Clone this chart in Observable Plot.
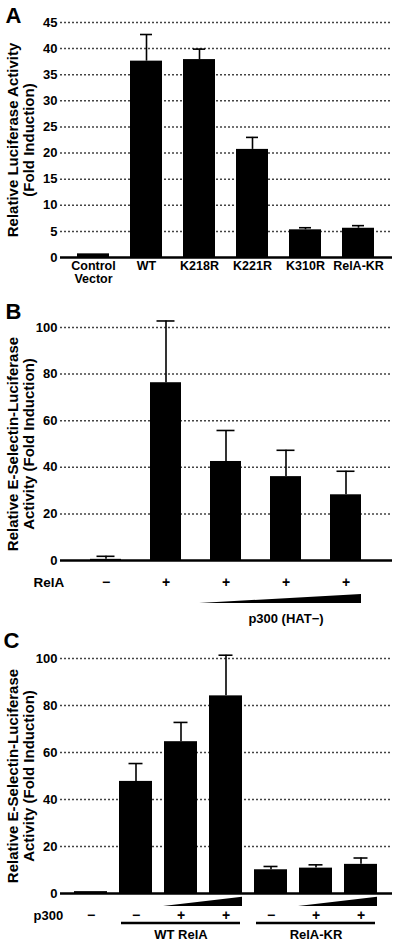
<!DOCTYPE html>
<html><head><meta charset="utf-8">
<script src="https://cdn.jsdelivr.net/npm/d3@7"></script>
<script src="https://cdn.jsdelivr.net/npm/@observablehq/plot@0.6"></script>
<style>
html,body{margin:0;padding:0;background:#fff;}
#root{width:400px;height:943px;overflow:hidden;background:#fff;}
#root svg{display:block;}
</style></head><body><div id="root"></div>
<script>
// ---------- Panel A ----------
const catsA = ["Control\nVector", "WT", "K218R", "K221R", "K310R", "RelA-KR"];
const valsA = [0.7, 37.6, 37.9, 20.7, 5.3, 5.6];
const errsA = [0, 5.1, 2.0, 2.3, 0.4, 0.5];
const ticksA = [0, 5, 10, 15, 20, 25, 30, 35, 40, 45];
const ylabelA = "Relative Luciferase Activity\n(Fold Induction)";

// ---------- Panel B ----------
const catsB = ["b1", "b2", "b3", "b4", "b5"];
const relaB = ["−", "+", "+", "+", "+"];
const valsB = [0.5, 76.3, 42.5, 36.0, 28.2];
const errsB = [1.3, 26.5, 13.3, 11.3, 10.1];
const ticksB = [0, 20, 40, 60, 80, 100];
const ylabelB = "Relative E-Selectin-Luciferase\nActivity (Fold Induction)";
const rowLabelB = "RelA";
const wedgeB = {from: "b3", to: "b5", label: "p300 (HAT−)", at: "b4"};

// ---------- Panel C ----------
const catsC = ["c1", "c2", "c3", "c4", "c5", "c6", "c7"];
const p300C = ["−", "−", "+", "+", "−", "+", "+"];
const valsC = [0.8, 47.7, 64.6, 84.1, 10.1, 10.8, 12.4];
const errsC = [0, 7.6, 8.2, 17.3, 1.4, 1.4, 2.7];
const ticksC = [0, 20, 40, 60, 80, 100];
const ylabelC = "Relative E-Selectin-Luciferase\nActivity (Fold Induction)";
const rowLabelC = "p300";
const groupsC = [
  {label: "WT RelA", from: "c2", to: "c4", mid: "c3", wFrom: "c3", wTo: "c4"},
  {label: "RelA-KR", from: "c5", to: "c7", mid: "c6", wFrom: "c6", wTo: "c7"}
];

const FONT = "'Liberation Sans', Arial, Helvetica, sans-serif";
const SVGNS = "http://www.w3.org/2000/svg";

function findArgs(args) {
  let scales, dims;
  for (const a of args) {
    if (a && typeof a === "object") {
      if (!scales && typeof a.x === "function") scales = a;
      if (typeof a.marginLeft === "number" && typeof a.height === "number") dims = a;
    }
  }
  return {scales, dims};
}

function wedgeMark(from, to, topOff, botOff, leftExtra) {
  return function (...args) {
    const {scales, dims} = findArgs(args);
    const sx = scales.x;
    const bw = sx.bandwidth ? sx.bandwidth() : 0;
    const yb = dims.height - dims.marginBottom;
    const x0 = sx(from) - leftExtra, x1 = sx(to) + bw;
    const p = document.createElementNS(SVGNS, "polygon");
    p.setAttribute("points", `${x0},${yb + botOff} ${x1},${yb + botOff} ${x1},${yb + topOff}`);
    p.setAttribute("fill", "black");
    return p;
  };
}

function underlineMark(from, to, off, inset) {
  return function (...args) {
    const {scales, dims} = findArgs(args);
    const sx = scales.x;
    const bw = sx.bandwidth ? sx.bandwidth() : 0;
    const yb = dims.height - dims.marginBottom;
    const l = document.createElementNS(SVGNS, "line");
    l.setAttribute("x1", sx(from) + inset);
    l.setAttribute("x2", sx(to) + bw - inset);
    l.setAttribute("y1", yb + off);
    l.setAttribute("y2", yb + off);
    l.setAttribute("stroke", "black");
    l.setAttribute("stroke-width", 2.5);
    return l;
  };
}

function panel(o) {
  const data = o.cats.map((c, i) => ({cat: c, v: o.vals[i], e: o.errs[i]}));
  const withErr = data.filter(d => d.e > 0);
  const marks = [
    Plot.ruleY(o.ticks.filter(t => t > 0), {stroke: "#444", strokeWidth: 1.5, strokeDasharray: "2,2"}),
    Plot.barY(data, {x: "cat", y: "v", fill: "black"}),
    Plot.ruleX(withErr, {x: "cat", y1: "v", y2: d => d.v + d.e, stroke: "black", strokeWidth: 1.6}),
    Plot.tickY(withErr, {x: "cat", y: d => d.v + d.e, stroke: "black", strokeWidth: 1.6, insetLeft: o.capInset, insetRight: o.capInset}),
    Plot.ruleY([0], {stroke: "black", strokeWidth: 2.6}),
    Plot.axisY({ticks: o.ticks, tickSize: 0, tickPadding: 3, fontSize: 13, fontWeight: "bold", label: null}),
    Plot.text([o.letter], {frameAnchor: "top-left", dx: o.letterDx, dy: o.letterDy, fontSize: 22, fontWeight: "bold", lineAnchor: "top", textAnchor: "start"}),
    Plot.text([o.ylabel], {frameAnchor: "left", rotate: -90, dx: -40, textAnchor: "middle", lineAnchor: "middle", fontSize: 15, fontWeight: "bold", lineHeight: 1.07}),
    ...o.extra
  ];
  return Plot.plot({
    width: 400, height: o.height,
    marginTop: o.mt, marginBottom: o.mb, marginLeft: 60, marginRight: 8,
    x: {domain: o.cats, range: o.xrange, paddingInner: o.pi, paddingOuter: o.pi / 2, axis: o.xaxis ? undefined : null},
    y: {domain: o.ydomain},
    style: {fontFamily: FONT, fontSize: "13px", background: "white", color: "black", overflow: "visible"},
    marks
  });
}

const root = document.getElementById("root");

root.appendChild(panel({
  cats: catsA, vals: valsA, errs: errsA, ticks: ticksA, ydomain: [0, 45],
  height: 295, mt: 22, mb: 38, xrange: [64.2, 385.8], pi: 0.4, capInset: 10,
  letter: "A", letterDx: -55, letterDy: -15, ylabel: ylabelA, xaxis: true,
  extra: [
    Plot.axisX({tickSize: 0, tickPadding: 4, fontSize: 12.5, fontWeight: "bold", lineHeight: 1.0, label: null})
  ]
}));

const dataRowB = catsB.map((c, i) => ({cat: c, s: relaB[i]}));
root.appendChild(panel({
  cats: catsB, vals: valsB, errs: errsB, ticks: ticksB, ydomain: [0, 100],
  height: 330, mt: 32, mb: 65, xrange: [73.5, 377.5], pi: 0.49, capInset: 6.5,
  letter: "B", letterDx: -55, letterDy: -24, ylabel: ylabelB,
  extra: [
    Plot.text(dataRowB, {x: "cat", text: "s", frameAnchor: "bottom", dy: 22, lineAnchor: "middle", fontSize: 14, fontWeight: "bold"}),
    Plot.text([rowLabelB], {frameAnchor: "bottom-left", dx: -27, dy: 22, textAnchor: "start", lineAnchor: "middle", fontSize: 13.5, fontWeight: "bold"}),
    wedgeMark(wedgeB.from, wedgeB.to, 34, 43, 11),
    Plot.text([wedgeB], {x: "at", text: "label", frameAnchor: "bottom", dy: 58, lineAnchor: "middle", fontSize: 13, fontWeight: "bold"})
  ]
}));

const dataRowC = catsC.map((c, i) => ({cat: c, s: p300C[i]}));
root.appendChild(panel({
  cats: catsC, vals: valsC, errs: errsC, ticks: ticksC, ydomain: [0, 100],
  height: 318, mt: 33, mb: 50, xrange: [66.8, 384.2], pi: 0.27, capInset: 9.5,
  letter: "C", letterDx: -57, letterDy: -26, ylabel: ylabelC,
  extra: [
    ...groupsC.map(g => wedgeMark(g.wFrom, g.wTo, 3.7, 13, 1)),
    Plot.text(dataRowC, {x: "cat", text: "s", frameAnchor: "bottom", dy: 22, lineAnchor: "middle", fontSize: 14, fontWeight: "bold"}),
    Plot.text([rowLabelC], {frameAnchor: "bottom-left", dx: -27, dy: 22, textAnchor: "start", lineAnchor: "middle", fontSize: 13, fontWeight: "bold"}),
    ...groupsC.map(g => underlineMark(g.from, g.to, 30, 2)),
    Plot.text(groupsC, {x: "mid", text: "label", frameAnchor: "bottom", dy: 41.5, lineAnchor: "middle", fontSize: 13, fontWeight: "bold"})
  ]
}));
</script></body></html>
